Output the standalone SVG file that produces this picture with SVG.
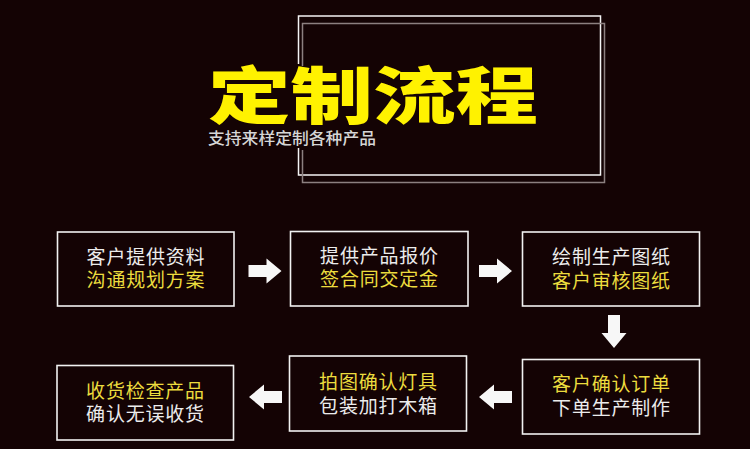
<svg xmlns="http://www.w3.org/2000/svg" width="750" height="449" viewBox="0 0 750 449">
  <style>
    .bg { fill: #140304; }
    .box { fill: none; stroke: #f2f2f2; stroke-width: 1.6; }
    .t { font-family: "Noto Sans CJK SC", "Noto Sans", sans-serif; font-size: 19px; letter-spacing: 0.8px; text-anchor: middle; }
    .w { fill: #ececec; }
    .y { fill: #ecdc3e; }
    .arrow { fill: #f7f7f7; }
  </style>
  <defs>
    <path id="arr" d="M0,-6 L18,-6 L18,-12.5 L33,0 L18,12.5 L18,6 L0,6 Z"/>
  </defs>
  <rect class="bg" x="0" y="0" width="750" height="449"/>

  <g id="title">
    <path d="M298.5,64 L298.5,16 L600.5,16 L600.5,175 L298.5,175 L298.5,148" fill="none" stroke="#f4f4f4" stroke-width="1.5"/>
    <path d="M302.5,66 L302.5,23.5 L604.5,23.5 L604.5,182.5 L302.5,182.5 L302.5,150" fill="none" stroke="#8c8080" stroke-width="1.5"/>
    <text x="208" y="119" textLength="330" lengthAdjust="spacingAndGlyphs" font-family="Noto Sans CJK SC, sans-serif" font-weight="900" font-size="62" fill="#fff200">定制流程</text>
    <text x="208" y="143.5" textLength="168" lengthAdjust="spacingAndGlyphs" font-family="Noto Sans CJK SC, sans-serif" font-weight="500" font-size="15.5" fill="#d6d6d6">支持来样定制各种产品</text>
  </g>

  <g id="node1">
    <rect class="box" x="57.5" y="232" width="176.5" height="74"/>
    <text class="t w" x="146" y="263.5">客户提供资料</text>
    <text class="t y" x="146" y="286.5">沟通规划方案</text>
  </g>
  <g id="node2">
    <rect class="box" x="290.5" y="231.5" width="177.5" height="74.5"/>
    <text class="t w" x="379.5" y="262.5">提供产品报价</text>
    <text class="t y" x="379.5" y="286">签合同交定金</text>
  </g>
  <g id="node3">
    <rect class="box" x="522.5" y="232" width="177" height="74"/>
    <text class="t w" x="611.5" y="264">绘制生产图纸</text>
    <text class="t y" x="611.5" y="288">客户审核图纸</text>
  </g>
  <g id="node4">
    <rect class="box" x="522.5" y="359.5" width="177" height="74.5"/>
    <text class="t y" x="611.5" y="391">客户确认订单</text>
    <text class="t w" x="611.5" y="415">下单生产制作</text>
  </g>
  <g id="node5">
    <rect class="box" x="289.5" y="356" width="177" height="75"/>
    <text class="t y" x="378.5" y="389">拍图确认灯具</text>
    <text class="t w" x="378.5" y="413">包装加打木箱</text>
  </g>
  <g id="node6">
    <rect class="box" x="57" y="365.5" width="176.5" height="74.5"/>
    <text class="t y" x="145.5" y="397.5">收货检查产品</text>
    <text class="t w" x="145.5" y="421">确认无误收货</text>
  </g>

  <g id="connectors" class="arrow">
    <use href="#arr" transform="translate(248.5,271)"/>
    <use href="#arr" transform="translate(479,271)"/>
    <use href="#arr" transform="translate(614,315) rotate(90)"/>
    <use href="#arr" transform="translate(512,397) rotate(180)"/>
    <use href="#arr" transform="translate(282,397) rotate(180)"/>
  </g>
</svg>
